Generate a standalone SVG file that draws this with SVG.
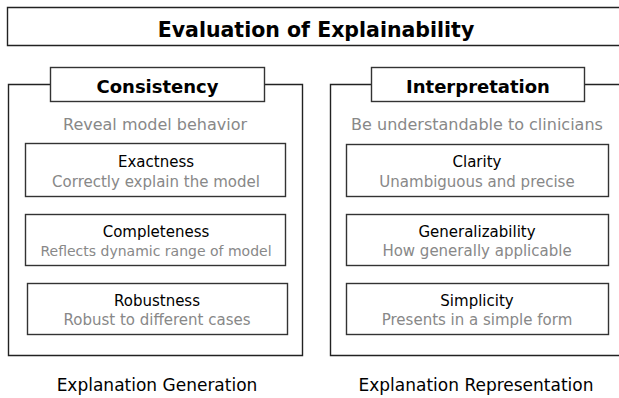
<svg xmlns="http://www.w3.org/2000/svg" width="619" height="398" viewBox="0 0 619 398">
<style>
text{font-family:"DejaVu Sans","Noto Sans",sans-serif;text-anchor:middle}
.frame{fill:none;stroke:#222;stroke-width:1.4}
.box{fill:#fff;stroke:#333;stroke-width:1.4}
.title{font-size:20.5px;font-weight:bold;fill:#000}
.head{font-size:18px;font-weight:bold;fill:#000}
.sub{font-size:16px;fill:#888}
.name{font-size:15px;fill:#000}
.desc{font-size:15px;fill:#888}
.foot{font-size:17px;fill:#000}
</style>
<g id="title">
<path class="frame" d="M625 7.5H7.5V45.5H625"/>
<text class="title" x="316" y="36.5">Evaluation of Explainability</text>
</g>
<g id="consistency">
<path class="frame" d="M50.5 84.5H8.5V355.5H302.5V84.5H264.5"/>
<rect class="box" x="50.5" y="67.5" width="214" height="34"/>
<text class="head" x="157.5" y="92.5">Consistency</text>
<text class="sub" x="155" y="130">Reveal model behavior</text>
<text class="foot" x="157" y="391">Explanation Generation</text>
</g>
<g id="exactness">
<rect class="box" x="25.5" y="143.5" width="260" height="53"/>
<text class="name" x="156" y="166.5">Exactness</text>
<text class="desc" x="156" y="186.5">Correctly explain the model</text>
</g>
<g id="completeness">
<rect class="box" x="25.5" y="214.5" width="260" height="51"/>
<text class="name" x="156" y="236.5">Completeness</text>
<text class="desc" x="156" y="256" style="font-size:14px">Reflects dynamic range of model</text>
</g>
<g id="robustness">
<rect class="box" x="27.5" y="283.5" width="260" height="51"/>
<text class="name" x="157" y="305.5">Robustness</text>
<text class="desc" x="157" y="325">Robust to different cases</text>
</g>
<g id="interpretation">
<path class="frame" d="M371.5 84.5H330.5V355.5H625M625 84.5H584.5"/>
<rect class="box" x="371.5" y="67.5" width="213" height="34"/>
<text class="head" x="478" y="92.5">Interpretation</text>
<text class="sub" x="477" y="130">Be understandable to clinicians</text>
<text class="foot" x="476" y="391">Explanation Representation</text>
</g>
<g id="clarity">
<rect class="box" x="346.5" y="144.5" width="262" height="52"/>
<text class="name" x="477" y="166.5">Clarity</text>
<text class="desc" x="477" y="186.5">Unambiguous and precise</text>
</g>
<g id="generalizability">
<rect class="box" x="346.5" y="214.5" width="262" height="51"/>
<text class="name" x="477" y="236.5">Generalizability</text>
<text class="desc" x="477" y="256">How generally applicable</text>
</g>
<g id="simplicity">
<rect class="box" x="346.5" y="283.5" width="262" height="51"/>
<text class="name" x="477" y="305.5">Simplicity</text>
<text class="desc" x="477" y="325">Presents in a simple form</text>
</g>
<g id="connectors"></g>
</svg>
